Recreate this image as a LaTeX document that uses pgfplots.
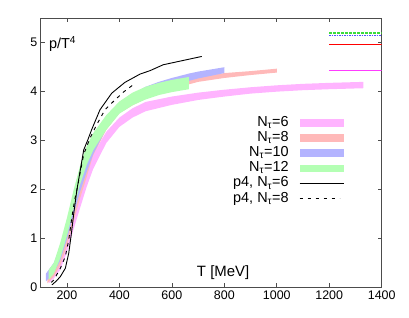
\documentclass[border=0pt]{standalone}
\usepackage{fontspec}
\setmainfont{Liberation Sans}
\usepackage{pgfplots}
\usepackage{pgfplotstable}
\usepgfplotslibrary{fillbetween}
\pgfplotsset{compat=1.18}
\definecolor{c6}{RGB}{255,180,255}
\definecolor{c8}{RGB}{255,185,185}
\definecolor{c10}{RGB}{180,180,255}
\definecolor{c12}{RGB}{180,255,180}

\pgfplotstableread{
T lo hi
130 0.08 0.22
150 0.18 0.36
175 0.36 0.62
200 0.72 1.05
225 1.18 1.55
250 1.62 1.98
275 2.05 2.38
300 2.42 2.72
350 2.95 3.18
400 3.28 3.47
450 3.47 3.66
500 3.60 3.79
600 3.73 3.90
700 3.83 3.98
800 3.90 4.04
900 3.96 4.09
1000 4.00 4.13
1100 4.03 4.16
1200 4.05 4.18
1330 4.07 4.20
}\tabsix

\pgfplotstableread{
T lo hi
125 0.08 0.22
150 0.22 0.42
175 0.45 0.75
200 0.85 1.20
225 1.35 1.72
250 1.82 2.18
275 2.25 2.58
300 2.70 2.98
350 3.22 3.45
400 3.56 3.72
450 3.72 3.87
500 3.86 4.00
550 3.96 4.09
600 4.05 4.17
665 4.15 4.26
700 4.20 4.30
800 4.28 4.38
900 4.34 4.42
1000 4.39 4.47
}\tabeight

\pgfplotstableread{
T lo hi
120 0.12 0.28
150 0.30 0.50
175 0.55 0.85
200 0.98 1.32
225 1.48 1.85
250 1.95 2.30
275 2.35 2.68
300 2.72 3.00
350 3.25 3.50
400 3.57 3.77
450 3.76 3.95
500 3.92 4.10
550 4.03 4.20
600 4.12 4.28
665 4.22 4.37
700 4.27 4.41
800 4.38 4.50
}\tabten

\pgfplotstableread{
T lo hi
130 0.15 0.35
150 0.28 0.50
175 0.60 0.92
200 1.05 1.42
225 1.60 1.98
250 2.10 2.48
275 2.50 2.88
300 2.80 3.15
350 3.22 3.52
400 3.55 3.80
450 3.72 3.98
500 3.84 4.10
550 3.93 4.18
600 3.99 4.24
665 4.05 4.30
}\tabtwelve

\pgfplotstableread{
T p
143 0.05
160 0.13
175 0.22
194 0.39
207 0.70
217 1.10
226 1.51
238 1.99
251 2.40
264 2.81
280 3.02
294 3.22
326 3.63
371 3.97
421 4.19
479 4.36
517 4.43
567 4.55
714 4.72
}\tabpsix

\pgfplotstableread{
T p
140 0.10
150 0.15
175 0.39
194 0.63
207 0.97
219 1.44
230 1.80
238 1.99
251 2.36
264 2.72
288 3.05
313 3.32
345 3.63
383 3.83
415 3.99
450 4.13
}\tabpeight

\begin{document}
\begin{tikzpicture}
\begin{axis}[
  scale only axis, width=341bp, height=269bp,
  xmin=100, xmax=1400, ymin=0, ymax=5.5,
  xtick={200,400,...,1400}, ytick={0,1,...,5},
  tick align=inside, major tick length=4bp,
  axis line style={black!70, line width=0.9bp},
  tick style={black!70, line width=0.6bp},
  /pgf/number format/assume math mode=true,
  /pgf/number format/1000 sep={},
  tick label style={font=\fontsize{12.5}{14}\selectfont},
  legend plot pos=right, legend cell align=right,
  legend style={at={(0.899,0.648)}, anchor=north east, draw=none, fill=none,
    column sep=10bp, row sep=0pt, font=\fontsize{14.5}{15}\selectfont,
    nodes={inner sep=0.5bp, text height=10.5bp, text depth=3.7bp}},
]
% N=6
\addplot[name path=a6, draw=none, forget plot] table[x=T,y=lo]{\tabsix};
\addplot[name path=b6, draw=none, forget plot] table[x=T,y=hi]{\tabsix};
\addplot[fill=c6, draw=none, legend image code/.code={\fill[c6] (0bp,-3.8bp) rectangle (44bp,3.8bp);}] fill between[of=a6 and b6];
\addlegendentry{N\textsubscript{τ}=6}
% N=8
\addplot[name path=a8, draw=none, forget plot] table[x=T,y=lo]{\tabeight};
\addplot[name path=b8, draw=none, forget plot] table[x=T,y=hi]{\tabeight};
\addplot[fill=c8, draw=none, legend image code/.code={\fill[c8] (0bp,-3.8bp) rectangle (44bp,3.8bp);}] fill between[of=a8 and b8];
\addlegendentry{N\textsubscript{τ}=8}
% N=10
\addplot[name path=a10, draw=none, forget plot] table[x=T,y=lo]{\tabten};
\addplot[name path=b10, draw=none, forget plot] table[x=T,y=hi]{\tabten};
\addplot[fill=c10, draw=none, legend image code/.code={\fill[c10] (0bp,-3.8bp) rectangle (44bp,3.8bp);}] fill between[of=a10 and b10];
\addlegendentry{N\textsubscript{τ}=10}
% N=12
\addplot[name path=a12, draw=none, forget plot] table[x=T,y=lo]{\tabtwelve};
\addplot[name path=b12, draw=none, forget plot] table[x=T,y=hi]{\tabtwelve};
\addplot[fill=c12, draw=none, legend image code/.code={\fill[c12] (0bp,-3.8bp) rectangle (44bp,3.8bp);}] fill between[of=a12 and b12];
\addlegendentry{N\textsubscript{τ}=12}
% p4 lines
\addplot[black, line width=0.9bp, legend image code/.code={\draw[black, line width=0.9bp] (0bp,0bp) -- (44bp,0bp);}] table[x=T,y=p]{\tabpsix};
\addlegendentry{p4, N\textsubscript{τ}=6}
\addplot[black, line width=0.9bp, dash pattern=on 3.5bp off 4.5bp, legend image code/.code={\draw[black, line width=0.9bp, dash pattern=on 3.5bp off 4.5bp] (0bp,0bp) -- (40bp,0bp);}] table[x=T,y=p]{\tabpeight};
\addlegendentry{p4, N\textsubscript{τ}=8}
% limits
\addplot[forget plot, color={rgb,255:red,255;green,60;blue,255}, line width=1.3bp, dash pattern=on 1.3bp off 0.7bp] coordinates {(1200,4.43) (1400,4.43)};
\addplot[forget plot, red, line width=1.2bp] coordinates {(1200,4.97) (1400,4.97)};
\addplot[forget plot, color={rgb,255:red,80;green,80;blue,255}, line width=1.5bp, dash pattern=on 1.5bp off 1bp] coordinates {(1200,5.15) (1400,5.15)};
\addplot[forget plot, color={rgb,255:red,60;green,220;blue,60}, line width=1.5bp, dash pattern=on 2.5bp off 1.5bp] coordinates {(1200,5.20) (1400,5.20)};
\node[anchor=west, font=\fontsize{14.5}{15}\selectfont, inner sep=0pt] at (rel axis cs:0.024,0.905) {p/T\textsuperscript{4}};
\node[font=\fontsize{15}{16}\selectfont, inner sep=0pt] at (rel axis cs:0.535,0.054) {T [MeV]};
\end{axis}
\path ([xshift=-40.7bp,yshift=-30.7bp]current axis.south west) rectangle ([xshift=27.3bp,yshift=18.3bp]current axis.north east);
\end{tikzpicture}
\end{document}
